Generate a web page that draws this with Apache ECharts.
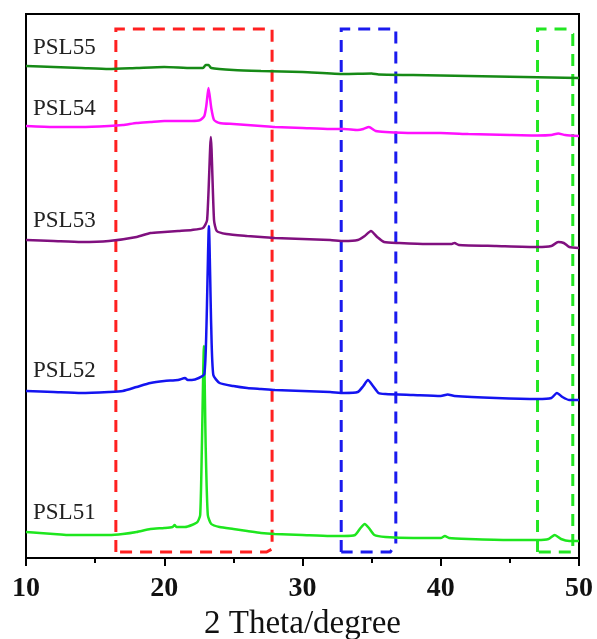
<!DOCTYPE html>
<html><head><meta charset="utf-8">
<script src="https://cdn.jsdelivr.net/npm/echarts@6/dist/echarts.min.js"></script>
<style>html,body{margin:0;padding:0;background:#fff}#c{width:597px;height:639px}</style>
</head><body><div id="c"></div>
<script>
// Intensity (arbitrary units, stacked offsets) vs 2 Theta
const names = ['PSL51','PSL52','PSL53','PSL54','PSL55'];
const colors = ['#1ee61e','#1414f0','#80107f','#ff10ff','#168a16'];
const xTicks = [10,20,30,40,50];

const PSL51 = [[10,26],[11,25],[12,24],[13,23],[14,23],[15,23],[16,23],[17,24],[18,26],[19,29],[20,30],[20.6,31],[20.75,33],[20.9,31],[21.5,31],[22,33],[22.4,36],[22.6,43],[22.72,110],[22.87,212],[23.0,110],[23.15,43],[23.4,34],[24,31],[25,29],[26,27],[27,25],[28,24],[30,23],[32,22],[33,22],[33.8,23],[34.2,30],[34.5,34],[34.8,30],[35.2,23],[36,21],[38,20],[40,20],[40.3,22],[40.6,20],[42,19],[45,18],[47,18],[47.8,19],[48.25,23],[48.7,19],[49.3,17],[50,17]];
const PSL52 = [[10,167],[12,166],[14,165],[16,166],[17,167],[18,171],[19,175],[20,177],[21,178],[21.5,180],[21.7,178],[22,178],[22.5,180],[22.9,184],[23.05,230],[23.23,332],[23.4,230],[23.55,183],[24,175],[25,172],[26,170],[27,169],[28,168],[30,167],[32,166],[33,165],[34,166],[34.4,172],[34.73,178],[35.1,172],[35.5,165],[36,164],[38,163],[40,162],[40.5,163.5],[41,162],[44,160],[47,159],[48,160],[48.4,165],[48.8,161],[49.3,158],[50,158]];
const PSL53 = [[10,318],[12,317],[14,316],[16,317],[18,321],[19,325],[20,326],[21,327],[22,328],[22.8,330],[23.1,338],[23.37,421],[23.6,338],[23.8,327],[24.5,324],[26,322],[27,321],[28,320],[30,319],[32,318],[33,317],[34,318],[34.5,322],[34.95,327],[35.4,321],[35.9,316],[37,315],[39,314],[40.8,314],[41,315],[41.3,313],[44,312],[47,311],[48,312],[48.5,316],[48.9,315],[49.3,311],[50,310]];
const PSL54 = [[10,432],[12,431],[14,431],[16,432],[17,433],[18,435],[19,436],[20,437],[21,437],[22,437],[22.6,438],[22.9,442],[23.05,453],[23.2,470],[23.4,450],[23.6,438],[24,435],[25,434],[27,432],[28,431],[30,430],[32,429],[33,429],[34,428],[34.4,429],[34.8,431],[35.3,427],[36,426],[38,425],[40,425],[42,424],[45,423],[47,422.5],[48,423],[48.5,424.5],[49,423],[50,422]];
const PSL55 = [[10,492],[12,491],[14,490],[16,489],[18,490],[20,491],[22,490],[22.8,490],[23.0,493],[23.2,493],[23.4,490],[25,488],[27,487],[30,486],[33,484],[35,484.5],[35.5,483.5],[38,483],[42,482],[46,481],[48,480.5],[50,480]];
const seriesData = [PSL51, PSL52, PSL53, PSL54, PSL55];

// dashed highlight boxes: [x1, x2] in degrees
const boxX = [[16.5,27.8],[32.8,36.75],[47.0,49.55]];
const boxColors = ['#ff2020','#1a1aee','#22e622'];
const boxY = [6, 529];

const chart = echarts.init(document.getElementById('c'));
const lineSeries = names.map((n,i)=>({
  name:n, type:'line', data:seriesData[i], showSymbol:false, smooth:0.2,
  lineStyle:{color:colors[i], width:2.5}, itemStyle:{color:colors[i]}, z:3+i, silent:true
}));
const boxSeries = {
  type:'custom', z:2, silent:true, clip:false,
  data: boxX.map((b,i)=>[b[0],b[1],i]),
  renderItem:(params, api)=>{
    const x1=api.value(0), x2=api.value(1), k=api.value(2);
    let pts;
    const y0=boxY[0], y1=boxY[1];
    if(k===0) pts=[[x1,y0],[x1,y1],[x2,y1],[x2,y0+3],[x2-0.4,y0],[x1,y0]];
    else if(k===1) pts=[[x1,y0],[x1,y1],[x2,y1],[x2,y0+8],[x2-0.4,y0],[x1,y0]];
    else pts=[[x1,y0],[x1,y1],[x2-0.45,y1],[x2,y1-5],[x2,y0],[x1,y0]];
    return {type:'polyline', shape:{points:pts.map(p=>api.coord(p))},
      style:{stroke:boxColors[k], lineWidth:3, lineDash:[12,8], fill:null}};
  }
};
const labelY = [514, 372, 222, 110, 49];
chart.setOption({
  animation:false,
  grid:{left:26, right:18, top:14, bottom:81, show:true, borderColor:'#000', borderWidth:2,
    containLabel:false, outerBoundsMode:'none'},
  xAxis:{type:'value', min:10, max:50, interval:10,
    axisLine:{lineStyle:{color:'#000', width:2}},
    axisTick:{length:8, lineStyle:{color:'#000', width:2}},
    minorTick:{show:true, splitNumber:2, length:5, lineStyle:{color:'#000', width:2}},
    splitLine:{show:false},
    axisLabel:{fontFamily:'Liberation Serif', fontWeight:'bold', fontSize:28, color:'#111', margin:17,
      formatter:v=>xTicks.includes(v)?String(v):''},
    name:'2 Theta/degree', nameLocation:'middle', nameGap:45,
    nameTextStyle:{fontFamily:'Liberation Serif', fontSize:33, color:'#111'}},
  yAxis:{type:'value', min:0, max:544, show:true,
    axisLine:{show:true, lineStyle:{color:'#000', width:2}}, axisTick:{show:false},
    axisLabel:{show:false}, splitLine:{show:false}},
  graphic: names.map((n,i)=>({type:'text', left:33, top:labelY[i]-13,
    style:{text:n, font:'23px "Liberation Serif"', fill:'#222'}})),
  series:[boxSeries, ...lineSeries]
});
</script></body></html>
